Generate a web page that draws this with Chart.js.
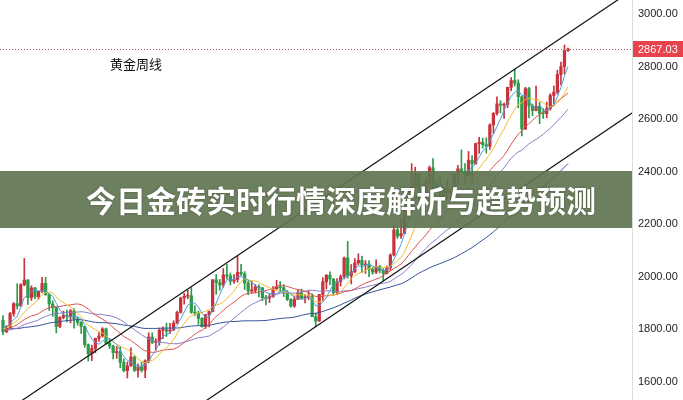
<!DOCTYPE html>
<html lang="zh-CN">
<head>
  <meta charset="UTF-8">
  <title>黄金周线</title>
  <script src="https://cdn.jsdelivr.net/npm/chart.js"></script>
  <style>
    html, body { margin: 0; padding: 0; background: #fff; }
    .wrap { width: 683px; height: 400px; position: relative; }
  </style>
</head>
<body>
<div class="wrap"><canvas id="goldChart" width="683" height="400"></canvas></div>
<script>
  // weekly candles, first one is the week of 2022-01-24, last one 2025-02-10
  const opens = [
    1835,1791,1808,1860,1898,1889,1970,1988,1921,1958, 1925,1945,1975,1932,1897,1883,1811,1846,1853,1850,
    1871,1840,1827,1811,1742,1708,1727,1766,1775,1802, 1747,1737,1712,1716,1675,1643,1661,1695,1644,1657,
    1645,1681,1771,1751,1755,1797,1799,1793,1798,1824, 1865,1920,1926,1928,1865,1862,1842,1811,1856,1868,
    1989,1978,1969,2007,2004,1983,1990,2017,2011,1977, 1946,1948,1961,1958,1921,1919,1925,1955,1961,1959,
    1942,1914,1889,1914,1940,1919,1924,1925,1848,1832, 1933,1981,2006,1992,1940,1981,2001,2072,2005,2019,
    2053,2063,2045,2049,2029,2018,2039,2024,2013,2035, 2083,2179,2155,2165,2233,2330,2344,2391,2337,2301,
    2360,2415,2334,2327,2293,2333,2321,2327,2391,2411, 2400,2386,2443,2431,2507,2512,2503,2497,2578,2622,
    2658,2653,2656,2721,2747,2737,2685,2563,2716,2650, 2633,2648,2622,2621,2640,2690,2703,2770,2800,2861
  ];
  const highs = [
    1853,1815,1865,1902,1974,1974,2070,1990,1966,1960, 1945,1998,1998,1935,1909,1885,1849,1870,1874,1876,
    1879,1847,1830,1812,1745,1740,1767,1788,1807,1805, 1765,1740,1735,1735,1688,1676,1730,1700,1669,1675,
    1684,1787,1787,1765,1805,1810,1824,1823,1833,1870, 1922,1937,1949,1959,1890,1870,1845,1858,1870,1989,
    2009,1990,2032,2048,2015,2009,2081,2048,2020,1985, 1983,1971,1970,1960,1930,1935,1963,1987,1982,1970,
    1948,1917,1925,1953,1953,1932,1947,1935,1862,1933, 1997,2009,2019,1993,1993,2007,2075,2135,2047,2070,
    2088,2078,2062,2062,2036,2065,2044,2031,2041,2088, 2195,2185,2222,2255,2332,2431,2417,2392,2355,2378,
    2422,2450,2364,2387,2340,2368,2335,2392,2424,2483, 2431,2477,2461,2509,2531,2528,2529,2582,2625,2685,
    2670,2661,2722,2758,2790,2750,2688,2721,2721,2658, 2726,2665,2640,2665,2697,2726,2786,2817,2882,2870
  ];
  const lows = [
    1780,1788,1807,1850,1878,1889,1966,1895,1910,1917, 1915,1940,1930,1872,1850,1787,1807,1840,1829,1825,
    1805,1816,1785,1732,1680,1681,1711,1754,1771,1745, 1727,1688,1690,1654,1639,1615,1660,1640,1618,1638,
    1616,1673,1746,1721,1740,1765,1773,1785,1795,1823, 1862,1896,1917,1861,1853,1819,1809,1804,1810,1867,
    1934,1949,1960,1992,1969,1975,1980,2005,1952,1932, 1937,1938,1924,1910,1893,1902,1922,1952,1942,1925,
    1910,1885,1884,1914,1915,1901,1913,1857,1810,1830, 1908,1954,1970,1931,1932,1965,1992,1995,1973,2016,
    2046,2016,2013,2001,2010,2012,2015,1984,2011,2024, 2080,2146,2146,2163,2228,2326,2340,2291,2277,2292,
    2340,2325,2323,2286,2287,2295,2293,2319,2351,2398, 2353,2381,2364,2428,2470,2490,2471,2485,2546,2615,
    2624,2603,2644,2708,2726,2643,2536,2560,2605,2613, 2631,2583,2603,2605,2634,2657,2696,2730,2772,2858
  ];
  const closes = [
    1791,1808,1860,1898,1889,1970,1988,1921,1958,1925, 1945,1975,1932,1897,1883,1811,1846,1853,1850,1871,
    1840,1827,1811,1742,1708,1727,1766,1775,1802,1747, 1737,1712,1716,1675,1643,1661,1695,1644,1657,1645,
    1681,1771,1751,1755,1797,1799,1793,1798,1824,1865, 1920,1926,1928,1865,1862,1842,1811,1856,1868,1989,
    1978,1969,2007,2004,1983,1990,2017,2011,1977,1946, 1948,1961,1958,1921,1919,1925,1955,1961,1959,1942,
    1914,1889,1914,1940,1919,1924,1925,1848,1832,1933, 1981,2006,1992,1940,1981,2001,2072,2005,2019,2053,
    2063,2045,2049,2029,2018,2039,2024,2013,2035,2083, 2179,2155,2165,2233,2330,2344,2391,2337,2301,2360,
    2415,2334,2327,2293,2333,2321,2327,2391,2411,2400, 2386,2443,2431,2507,2512,2503,2497,2578,2622,2658,
    2653,2656,2721,2747,2737,2685,2563,2716,2650,2633, 2648,2622,2621,2640,2690,2703,2770,2800,2861,2867.03
  ];
  // closes of the 59 weeks before the first candle, only used so the averages start at the left edge
  const warmupCloses = [
    1839,1881,1877,1895, 1850,1829,1856,1848, 1814,1824,1784,1734, 1700,1727,1745,1733,1729,
    1744,1777,1777,1769, 1831,1844,1881,1905,1892, 1877,1764,1781,1787, 1808,1812,1802,1814,
    1763,1780,1781,1818,1827, 1787,1754,1750,1761, 1757,1768,1792,1783, 1818,1865,1846,1788,1783,
    1783,1798,1809,1829, 1797,1818,1835
  ];
  const maPeriods = [5, 10, 20, 30, 60];
  const priceTicks = [1600, 1800, 2000, 2200, 2400, 2600, 2800, 3000];
  const lastPrice = 2867.03;
  // trend channel drawn on the chart: [week index, price] at both ends
  const upperChannel = [[0, 1481], [177, 3090]];
  const lowerChannel = [[0, 1007], [177, 2623]];
  const chartTitle = '黄金周线';
  const bannerText = '今日金砖实时行情深度解析与趋势预测';

  const UP = '#c8323c';
  const DOWN = '#2f9a48';
  const maColors = ['#4aa0de', '#f0bd2c', '#d9544f', '#8c7cc8', '#33519c'];

  const candleColors = closes.map((c, i) => c >= opens[i] ? UP : DOWN);
  const allCloses = warmupCloses.concat(closes);

  function movingAverage(period) {
    const out = [];
    for (let i = 0; i < closes.length; i++) {
      const end = warmupCloses.length + i;
      let sum = 0;
      for (let k = end - period + 1; k <= end; k++) sum += allCloses[k];
      out.push({ x: i, y: sum / period });
    }
    return out;
  }

  const maSets = maPeriods.map((p, n) => ({
    type: 'line',
    label: 'MA' + p,
    data: movingAverage(p),
    borderColor: maColors[n],
    borderWidth: 1,
    pointRadius: 0,
    tension: 0,
    order: 1
  }));

  const channelSets = [upperChannel, lowerChannel].map(line => ({
    type: 'line',
    data: line.map(p => ({ x: p[0], y: p[1] })),
    borderColor: '#111',
    borderWidth: 1.2,
    pointRadius: 0,
    order: 0
  }));

  const overlay = {
    id: 'overlay',
    afterDraw(chart) {
      const { ctx, chartArea, scales: { y } } = chart;
      const py = Math.round(y.getPixelForValue(lastPrice)) + 0.5;
      ctx.save();
      // last price line + tag
      ctx.strokeStyle = '#b4525a';
      ctx.lineWidth = 1;
      ctx.setLineDash([1, 2]);
      ctx.beginPath();
      ctx.moveTo(chartArea.left, py);
      ctx.lineTo(chartArea.right, py);
      ctx.stroke();
      ctx.setLineDash([]);
      ctx.fillStyle = '#e8424c';
      ctx.fillRect(chartArea.right + 1, py - 8.5, chart.width - chartArea.right, 16);
      ctx.fillStyle = '#fff';
      ctx.font = '11px "Liberation Sans", Arial, sans-serif';
      ctx.textBaseline = 'middle';
      ctx.fillText(lastPrice.toFixed(2), chartArea.right + 6, py);
      // chart name
      ctx.fillStyle = '#111';
      ctx.font = '13px "Noto Sans CJK SC", sans-serif';
      ctx.fillText(chartTitle, 110, 64);
      // headline banner
      ctx.fillStyle = 'rgba(96,116,80,0.92)';
      ctx.fillRect(0, 171, chartArea.right, 57);
      ctx.font = 'bold 30px "Noto Sans CJK SC", sans-serif';
      ctx.textAlign = 'center';
      ctx.shadowColor = 'rgba(0,0,0,0.35)';
      ctx.shadowBlur = 2;
      ctx.fillStyle = '#fff';
      ctx.fillText(bannerText, 341, 201);
      ctx.restore();
    }
  };

  new Chart(document.getElementById('goldChart'), {
    data: {
      datasets: [
        ...channelSets,
        ...maSets,
        {
          type: 'bar',
          data: closes.map((c, i) => ({ x: i, y: [opens[i], c] })),
          backgroundColor: candleColors,
          barThickness: 2.6,
          minBarLength: 1,
          grouped: false,
          order: 2
        },
        {
          type: 'bar',
          data: lows.map((l, i) => ({ x: i, y: [l, highs[i]] })),
          backgroundColor: candleColors,
          barThickness: 1,
          grouped: false,
          order: 3
        }
      ]
    },
    options: {
      responsive: false,
      animation: false,
      events: [],
      layout: { padding: 0 },
      plugins: { legend: { display: false }, tooltip: { enabled: false } },
      scales: {
        x: { type: 'linear', display: false, offset: false, min: -0.84, max: 177 },
        y: {
          position: 'right',
          min: 1531.5,
          max: 3053.3,
          grid: { display: false, drawTicks: false },
          border: { display: true, color: '#dcdcdc' },
          ticks: {
            padding: 6,
            color: '#222',
            font: { family: '"Liberation Sans", Arial, sans-serif', size: 11 },
            callback: v => v.toFixed(2)
          },
          afterBuildTicks: s => { s.ticks = priceTicks.map(v => ({ value: v })); },
          afterFit: s => { s.width = 51; s.paddingTop = 0; s.paddingBottom = 0; }
        }
      }
    },
    plugins: [overlay]
  });
</script>
</body>
</html>
